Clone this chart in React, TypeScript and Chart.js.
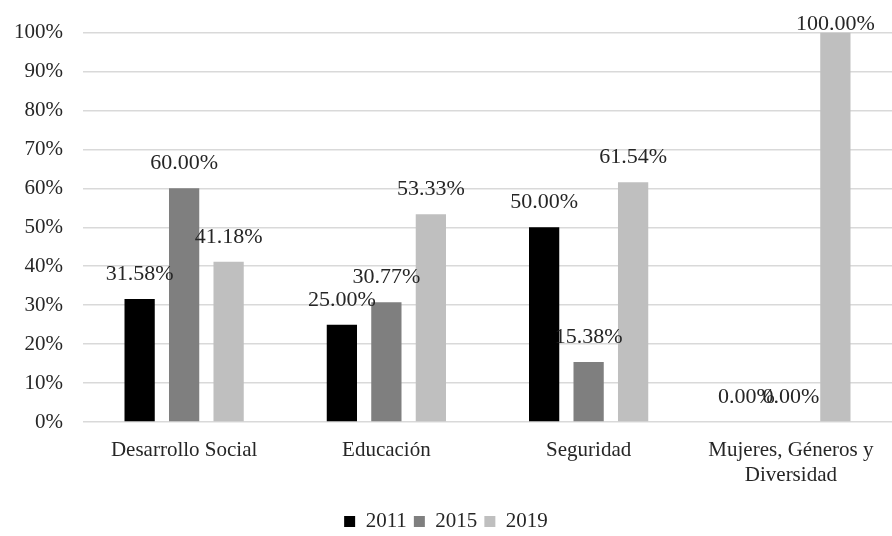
import React, { useEffect, useRef } from "react";
import { Chart, registerables } from "chart.js";

Chart.register(...registerables);

const categories: (string | string[])[] = [
  "Desarrollo Social",
  "Educación",
  "Seguridad",
  ["Mujeres, Géneros y", "Diversidad"],
];
const series2011 = [31.58, 25.0, 50.0, 0.0];
const series2015 = [60.0, 30.77, 15.38, 0.0];
const series2019 = [41.18, 53.33, 61.54, 100.0];
const seriesNames = ["2011", "2015", "2019"];
const yTicks = [0, 10, 20, 30, 40, 50, 60, 70, 80, 90, 100];

const FONT = "'Liberation Serif', 'Times New Roman', serif";

const labelPlugin = {
  id: "barLabels",
  afterDatasetsDraw(chart: any) {
    const ctx = chart.ctx;
    ctx.save();
    ctx.font = `22px ${FONT}`;
    ctx.fillStyle = "#262626";
    ctx.textAlign = "center";
    ctx.textBaseline = "alphabetic";
    chart.data.datasets.forEach((ds: any, i: number) => {
      const meta = chart.getDatasetMeta(i);
      meta.data.forEach((bar: any, j: number) => {
        const v = ds.data[j] as number;
        const y = Math.max(bar.y - 19, 30);
        ctx.fillText(v.toFixed(2) + "%", bar.x, y);
      });
    });
    ctx.restore();
  },
};

export default function App() {
  const ref = useRef<HTMLCanvasElement>(null);
  useEffect(() => {
    if (!ref.current) return;
    const chart = new Chart(ref.current, {
      type: "bar",
      data: {
        labels: categories,
        datasets: [
          { label: seriesNames[0], data: series2011, backgroundColor: "#000000" },
          { label: seriesNames[1], data: series2015, backgroundColor: "#7f7f7f" },
          { label: seriesNames[2], data: series2019, backgroundColor: "#bfbfbf" },
        ],
      },
      options: {
        animation: false,
        responsive: false,
        maintainAspectRatio: false,
        layout: { padding: { top: 21, right: 0, left: 0, bottom: -6 } },
        datasets: {
          bar: { categoryPercentage: 0.66, barPercentage: 0.68 },
        },
        plugins: {
          tooltip: { enabled: false },
          legend: {
            position: "bottom",
            labels: {
              boxWidth: 11,
              boxHeight: 11,
              color: "#262626",
              font: { family: FONT, size: 21 },
              padding: 7,
            },
          },
        },
        scales: {
          x: {
            afterFit: (scale: any) => {
              scale.height = 82;
            },
            grid: { display: false, drawTicks: false },
            border: { display: false },
            ticks: {
              color: "#262626",
              font: { family: FONT, size: 21 },
              padding: 16,
              maxRotation: 0,
              autoSkip: false,
            },
          },
          y: {
            min: 0,
            max: 100,
            afterBuildTicks: (scale: any) => {
              scale.ticks = yTicks.map((v) => ({ value: v }));
            },
            afterFit: (scale: any) => {
              scale.width = 83;
            },
            grid: { color: "#d9d9d9", lineWidth: 1.5, drawTicks: false },
            border: { display: false },
            ticks: {
              color: "#262626",
              font: { family: FONT, size: 21 },
              padding: 20,
              callback: (v: any) => v + "%",
            },
          },
        },
      },
      plugins: [labelPlugin],
    });
    return () => chart.destroy();
  }, []);
  return (
    <div style={{ position: "absolute", left: 0, top: 0, width: 892, height: 536, background: "#fff" }}>
      <canvas ref={ref} width={892} height={536} style={{ width: 892, height: 536 }} />
    </div>
  );
}
